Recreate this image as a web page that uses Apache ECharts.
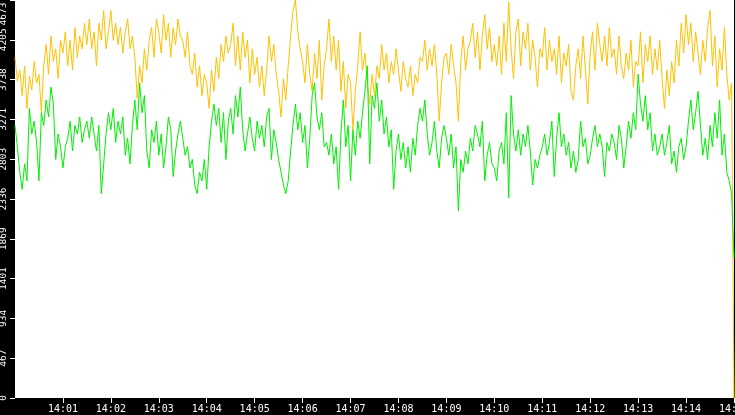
<!doctype html>
<html lang="en">
<head>
	<meta charset="utf-8" />
	<title>Throughput 14:00 - 14:15</title>
	<script src="https://cdn.jsdelivr.net/npm/echarts@6/dist/echarts.min.js"></script>
	<style>
		html, body { margin: 0; padding: 0; background: #000; }
		#main { width: 735px; height: 415px; }
	</style>
</head>
<body>
	<div id="main"></div>
	<script>
		// one sample every 3 s, starting at 14:00:00
		var stepSeconds = 3;

		var xTickLabels = ['14:00', '14:01', '14:02', '14:03', '14:04', '14:05', '14:06', '14:07',
			'14:08', '14:09', '14:10', '14:11', '14:12', '14:13', '14:14', '14:15'];
		var yTickLabels = ['0', '467', '934', '1401', '1869', '2336', '2803', '3271', '3738', '4205', '4673'];

		var yellowValues = [
			4000, 3720, 3850, 3550, 3900, 3400, 3780, 3620, 3950, 3700,
			3800, 3350, 3900, 4150, 3800, 4250, 3950, 4100, 3750, 4200,
			4050, 4300, 3900, 4200, 3850, 4350, 4000, 4250, 4100, 4400,
			4150, 4450, 4100, 4300, 3900, 4400, 4200, 4550, 4100, 4300,
			4550, 4200, 4400, 4150, 4350, 4050, 4300, 4450, 4100, 4250,
			4000, 3520, 3900, 3700, 4100, 3850, 4200, 4350, 4000, 4450,
			4300, 4050, 4500, 4200, 4400, 4000, 4350, 4150, 4450, 4250,
			4200, 4000, 4300, 3900, 3800, 4050, 3650, 3900, 3550, 3800,
			3700, 3400, 3850, 3600, 4000, 3750, 4150, 3950, 4250, 4050,
			4150, 4400, 3900, 4250, 3850, 4300, 4000, 4200, 3700, 4100,
			3800, 4000, 3650, 3900, 3550, 3850, 4250, 3950, 4150, 3800,
			3600, 3300, 3750, 3500, 3900, 4250, 4550, 4673, 4300, 4100,
			3950, 3700, 4150, 3800, 3600, 4050, 3750, 4200, 3500, 3900,
			4100, 4450, 3950, 4250, 3850, 4200, 3600, 3950, 3400, 3800,
			3700, 3150, 3600, 3900, 4300, 3850, 4050, 3700, 3450, 3800,
			3550, 3900, 3750, 4150, 3850, 4050, 3700, 3950, 3800, 4100,
			3850, 3600, 3950, 3750, 3650, 3900, 3550, 3800, 3700, 4000,
			3950, 4200, 3850, 4100, 3900, 4150, 3800, 3250, 3700, 4000,
			4050, 3800, 4150, 3900, 3700, 3250, 3950, 4250, 3850, 4100,
			4200, 4400, 4000, 4300, 3850, 4250, 4500, 4100, 4350, 3950,
			4150, 3900, 4250, 3800, 4400, 3950, 4650, 4100, 3750, 4300,
			4450, 3900, 4300, 4100, 4400, 3850, 4200, 4000, 3650, 4100,
			4000, 4350, 3850, 4200, 3950, 4100, 3800, 4250, 3700, 4050,
			3900, 4150, 3600, 3500, 3900, 4100, 3750, 4250, 3850, 3450,
			4050, 4300, 3850, 4400, 4150, 3950, 4250, 3900, 4350, 4000,
			4100, 3800, 4250, 3900, 3750, 4050, 3850, 4200, 3650, 3950,
			3900, 4300, 3700, 4150, 3950, 4250, 3800, 4100, 3850, 4200,
			3750, 3400, 3850, 3550, 3950, 3700, 4200, 3900, 4400, 4050,
			4500, 4150, 4400, 3950, 4300, 4050, 3800, 4200, 3950, 4350,
			4550, 3900, 4250, 3650, 4100, 3850, 4350, 3800, 3500, 3700,
			0
		];

		var greenValues = [
			3200, 2950, 2650, 2450, 2750, 2550, 3400, 3100, 3250, 3000,
			2550, 3350, 3200, 3500, 3300, 3650, 3450, 2800, 3100, 2950,
			2700, 2950, 3050, 3250, 2900, 3200, 3100, 3300, 3000, 3150,
			3250, 3050, 3300, 3100, 2900, 3200, 2400, 2750, 3100, 3350,
			3150, 3400, 3000, 3250, 3100, 3300, 2850, 3050, 2750, 3200,
			3500, 3150, 3700, 3350, 3550, 2900, 2700, 3150, 3000, 3250,
			2850, 3100, 2700, 2950, 3300, 3150, 2600, 2900, 3100, 3250,
			3050, 2850, 2950, 2700, 2800, 2500, 2400, 2650, 2550, 2800,
			2450, 2950, 3250, 3450, 3200, 3400, 3000, 3350, 2800, 3250,
			3400, 3100, 3550, 3300, 3650, 3150, 2900, 3100, 3300, 3050,
			2900, 3250, 3050, 3200, 2950, 3300, 3400, 2800, 3150, 3000,
			2800, 2650, 2500, 2400, 2550, 2900, 3200, 3450, 3150, 3350,
			3000, 3200, 2700, 3050, 3550, 3700, 3300, 3150, 3350, 2950,
			3000, 2850, 3100, 2750, 2950, 2450, 3100, 3500, 2950, 3200,
			2550, 3150, 2850, 3250, 3050, 3350, 3600, 3900, 2750, 3550,
			3400, 3700, 3250, 3500, 3100, 3300, 2950, 3150, 2450, 2900,
			3100, 2800, 3000, 2700, 2950, 2650, 3050, 2850, 3200, 3400,
			3250, 3500, 3100, 2850, 3000, 3250, 2900, 2700, 3050, 3200,
			3050, 2850, 3100, 2700, 2950, 2200, 2800, 2650, 2900, 2750,
			3050, 2900, 3200, 3100, 2950, 3250, 2550, 2850, 3000, 2750,
			2700, 2550, 2900, 3000, 2750, 3350, 2350, 3550, 3100, 2900,
			3150, 2850, 3100, 2950, 3200, 2900, 2500, 2800, 2700, 2850,
			2950, 3100, 2850, 3000, 3250, 2600, 3050, 3350, 2950, 3100,
			2850, 3000, 2700, 2900, 2650, 2800, 3250, 2950, 3050, 2750,
			2850, 3050, 3200, 2950, 3100, 2950, 2600, 3000, 2900, 3100,
			3000, 2800, 3200, 3050, 2700, 2950, 3250, 3050, 3350, 3150,
			3800, 3450, 3250, 3550, 3150, 3350, 2900, 3100, 2850, 2950,
			3100, 2850, 3000, 3200, 2750, 2900, 2650, 2950, 3050, 2800,
			2950, 3250, 3500, 3150, 3350, 3600, 3200, 2850, 3050, 2800,
			3200, 2950, 3350, 3050, 3500, 2850, 3100, 2650, 2550, 2400,
			1650
		];

		function toPairs(values) {
			return values.map(function (v, i) {
				return [i * stepSeconds, v];
			});
		}

		var chart = echarts.init(document.getElementById('main'));

		var option = {
			animation: false,
			backgroundColor: '#000',
			grid: {
				left: 15,
				right: 1,
				top: 0,
				bottom: 17,
				show: true,
				backgroundColor: '#fff',
				borderWidth: 0,
				containLabel: false,
				outerBoundsMode: 'none'
			},
			xAxis: {
				type: 'value',
				min: 0,
				max: 900,
				interval: 60,
				axisLine: { show: false },
				axisTick: { show: true, length: 5, lineStyle: { color: '#fff', width: 1 } },
				splitLine: { show: false },
				axisLabel: {
					showMinLabel: false,
					color: '#fff',
					fontFamily: 'DejaVu Sans Mono',
					fontSize: 10,
					margin: 6,
					formatter: function (value) {
						return xTickLabels[Math.round(value / 60)];
					}
				}
			},
			yAxis: {
				type: 'value',
				min: 0,
				max: 4673,
				interval: 467.3,
				axisLine: { show: false },
				axisTick: { show: true, length: 5, lineStyle: { color: '#fff', width: 1 } },
				splitLine: { show: false },
				axisLabel: {
					rotate: 90,
					color: '#fff',
					fontFamily: 'DejaVu Sans Mono',
					fontSize: 9.5,
					margin: 6,
					formatter: function (value) {
						var i = Math.round(value / 467.3);
						// the top label is pushed down inside the strip
						return i === yTickLabels.length - 1 ? '{top|' + yTickLabels[i] + '}' : yTickLabels[i];
					},
					rich: {
						top: {
							color: '#fff',
							fontFamily: 'DejaVu Sans Mono',
							fontSize: 9.5,
							padding: [0, 28, 0, 0]
						}
					}
				}
			},
			series: [
				{
					name: 'yellow',
					type: 'line',
					data: toPairs(yellowValues),
					showSymbol: false,
					lineStyle: { color: '#ffc000', width: 1 },
					itemStyle: { color: '#ffc000' }
				},
				{
					name: 'green',
					type: 'line',
					data: toPairs(greenValues),
					showSymbol: false,
					lineStyle: { color: '#00f000', width: 1 },
					itemStyle: { color: '#00f000' }
				}
			]
		};
		chart.setOption(option);
	</script>
</body>
</html>
